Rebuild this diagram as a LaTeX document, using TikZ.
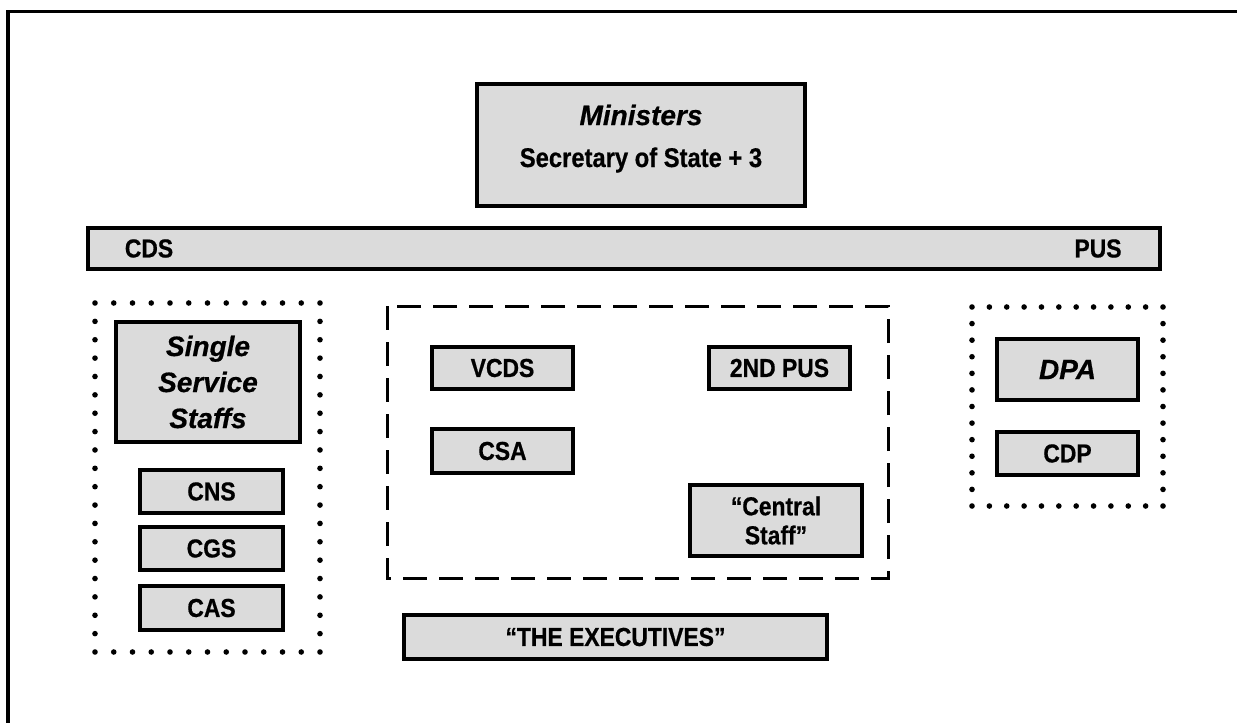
\documentclass[tikz,border=0pt]{standalone}
\usepackage{fontspec}
\setmainfont{Liberation Sans}
\newfontfamily\labfont[Ligatures=TeX,FakeStretch=0.88,FakeBold=0.6]{Liberation Sans Bold}
\newfontfamily\titfont[Ligatures=TeX,FakeBold=0.6]{Liberation Sans Bold Italic}
\begin{document}
\begin{tikzpicture}[x=1pt,y=-1pt,
  box/.style={draw=black,line width=3.2pt,fill=black!14,rectangle,inner sep=0pt,align=center,font=\fontsize{26}{29}\labfont},
  title/.style={font=\fontsize{28}{36}\titfont},
  plain/.style={inner sep=0pt,font=\fontsize{26}{29}\labfont},
  dot/.style={fill=black,circle,inner sep=0pt,minimum size=5.6pt},
  dashbox/.style={draw=black,line width=3pt,dash pattern=on 24pt off 12pt},
  frame/.style={line width=3.4pt}]
\useasboundingbox (0,0) rectangle (1237,723);
% outer frame (top and left only)
\coordinate (ftr) at (1237,11.5);
\coordinate (ftl) at (8,11.5);
\coordinate (fbl) at (8,723);
\draw[frame] (ftr) -- (ftl) -- (fbl);

% Ministers
\node[box,minimum width=328pt,minimum height=122pt] (min) at (641,145) {};
\node[plain,title,anchor=base] (mint) at (641,125) {Ministers};
\node[plain,anchor=base,font=\fontsize{27}{29}\labfont] (sos) at (641,167) {Secretary of State + 3};

% CDS / PUS bar
\node[box,minimum width=1072pt,minimum height=41pt] (bar) at (624,248.5) {};
\node[plain] (cds) at (149,248.5) {CDS};
\node[plain] (pus) at (1098,248.5) {PUS};

% left dotted group
\foreach \i in {0,...,12} {\node[dot] at ({95+\i*225/12},303) {}; \node[dot] at ({95+\i*225/12},652) {};}
\foreach \i in {1,...,18} {\node[dot] at (95,{303+\i*349/19}) {}; \node[dot] at (320,{303+\i*349/19}) {};}
\node[box,minimum width=184pt,minimum height=120pt,font=\fontsize{28}{36}\titfont] (sss) at (208,382) {Single\\Service\\Staffs};
\node[box,minimum width=143pt,minimum height=43pt] (cns) at (211.5,491.5) {CNS};
\node[box,minimum width=143pt,minimum height=43pt] (cgs) at (211.5,548.5) {CGS};
\node[box,minimum width=143pt,minimum height=44pt] (cas) at (211.5,608) {CAS};

% central dashed group
\coordinate (dtl) at (387,306);
\coordinate (dbr) at (888,578);
\draw[dashbox] (dtl) rectangle (dbr);
\node[box,minimum width=141pt,minimum height=42pt] (vcds) at (502.5,368) {VCDS};
\node[box,minimum width=141pt,minimum height=42pt] (pus2) at (779.5,368) {2ND PUS};
\node[box,minimum width=141pt,minimum height=44pt] (csa) at (502.5,451) {CSA};
\node[box,minimum width=172pt,minimum height=71pt] (cst) at (776,520.5) {``Central\\Staff''};

% right dotted group
\foreach \i in {0,...,11} {\node[dot] at ({972+\i*191/11},307) {}; \node[dot] at ({972+\i*191/11},506) {};}
\foreach \i in {1,...,11} {\node[dot] at (972,{307+\i*199/12}) {}; \node[dot] at (1163,{307+\i*199/12}) {};}
\node[box,minimum width=141pt,minimum height=61pt,font=\fontsize{28}{36}\titfont] (dpa) at (1067.5,369.5) {DPA};
\node[box,minimum width=141pt,minimum height=43pt] (cdp) at (1067.5,453.5) {CDP};

% executives
\node[box,minimum width=423pt,minimum height=44pt] (exe) at (615.5,637) {``THE EXECUTIVES''};
\end{tikzpicture}
\end{document}
